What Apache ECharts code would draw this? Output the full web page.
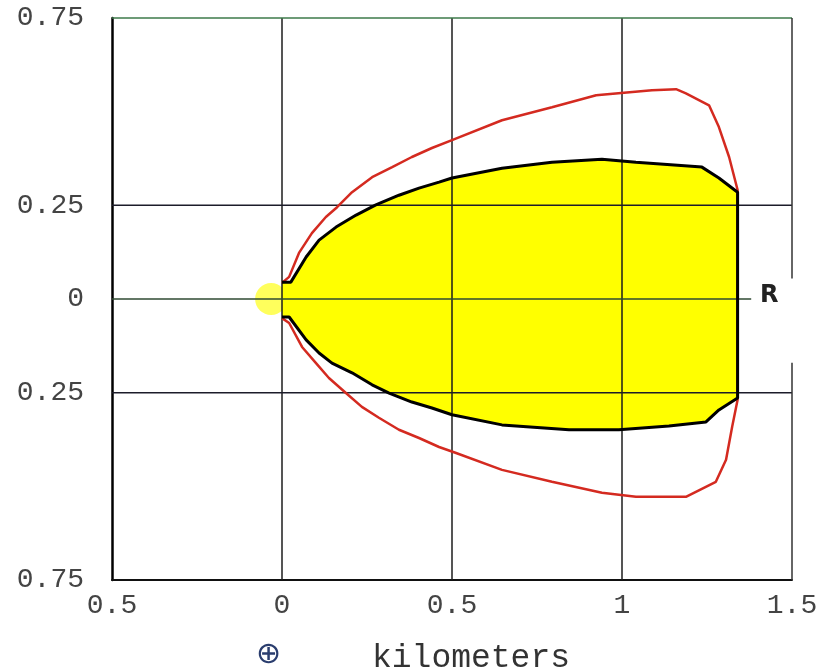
<!DOCTYPE html>
<html>
<head>
<meta charset="utf-8">
<script src="https://cdn.jsdelivr.net/npm/echarts@6/dist/echarts.min.js"></script>
<style>
  html, body { margin: 0; padding: 0; background: #fff; }
  #chart { width: 823px; height: 672px; }
</style>
</head>
<body>
<div id="chart"></div>
<script>
// axis ranges and tick labels
const xRange = [-0.5, 1.5]
const yRange = [-0.75, 0.75]
const xGridTicks = [0, 0.5, 1]
const yGridTicks = [0.25, -0.25]
const yLabelTicks = [0.75, 0.25, 0, -0.25, -0.75]
const zeroLineEnd = 1.38
const rightGap = [0.055, -0.17]

// black boundary, upper and lower half (x, y in km)
const blackUpper = [[0, 0.045], [0.026, 0.045], [0.071, 0.112], [0.109, 0.157], [0.159, 0.192],
  [0.218, 0.224], [0.276, 0.251], [0.344, 0.277], [0.403, 0.296], [0.462, 0.312], [0.5, 0.323],
  [0.647, 0.349], [0.794, 0.365], [0.941, 0.373], [1.041, 0.365],
  [1.235, 0.352], [1.285, 0.323], [1.34, 0.285]]
const blackLower = [[0, -0.048], [0.021, -0.048], [0.071, -0.109], [0.109, -0.144], [0.147, -0.171],
  [0.206, -0.197], [0.265, -0.229], [0.315, -0.251], [0.382, -0.275], [0.441, -0.291], [0.5, -0.309],
  [0.647, -0.336], [0.844, -0.349], [0.991, -0.349], [1.138, -0.339],
  [1.247, -0.328], [1.285, -0.296], [1.34, -0.264]]

// red outer contour
const redUpper = [[0, 0.043], [0.021, 0.059], [0.05, 0.123], [0.088, 0.176], [0.129, 0.219],
  [0.162, 0.245], [0.206, 0.285], [0.265, 0.325], [0.324, 0.352], [0.382, 0.379], [0.441, 0.403],
  [0.5, 0.424], [0.647, 0.477], [0.794, 0.512], [0.924, 0.544], [1.088, 0.557],
  [1.159, 0.56], [1.188, 0.549], [1.256, 0.517], [1.285, 0.459], [1.315, 0.379], [1.34, 0.291]]
const redLower = [[0, -0.051], [0.021, -0.064], [0.059, -0.128], [0.1, -0.171], [0.138, -0.211],
  [0.188, -0.251], [0.235, -0.288], [0.285, -0.317], [0.344, -0.349], [0.403, -0.371],
  [0.462, -0.395], [0.512, -0.411], [0.647, -0.456], [0.794, -0.488], [0.941, -0.517],
  [1.041, -0.528], [1.188, -0.528], [1.276, -0.488], [1.306, -0.429], [1.324, -0.341], [1.34, -0.269]]

// source point
const sourcePoint = [[-0.032, 0]]

const myChart = echarts.init(document.getElementById('chart'), null, { renderer: 'canvas' })

const lineSeries = (data, color, width) => ({
  type: 'line',
  data: data,
  symbol: 'none',
  silent: true,
  animation: false,
  clip: false,
  lineStyle: { color: color, width: width }
})

const gridSeries = []
xGridTicks.forEach(x => {
  gridSeries.push(lineSeries([[x, yRange[0]], [x, yRange[1]]], '#1c1c1c', 1.5))
})
yGridTicks.forEach(y => {
  gridSeries.push(lineSeries([[xRange[0], y], [xRange[1], y]], '#1c1c2a', 1.5))
})
gridSeries.push(lineSeries([[xRange[0], 0], [zeroLineEnd, 0]], '#2f4a32', 1.5))
// frame: top and right (right has a gap for the R marker)
gridSeries.push(lineSeries([[xRange[0], yRange[1]], [xRange[1], yRange[1]]], '#3d7a4a', 1.5))
gridSeries.push(lineSeries([[xRange[1], yRange[1]], [xRange[1], rightGap[0]]], '#333', 1.5))
gridSeries.push(lineSeries([[xRange[1], rightGap[1]], [xRange[1], yRange[0]]], '#333', 1.5))

const blackPath = blackUpper.concat(blackLower.slice().reverse())
const redPath = redUpper.concat(redLower.slice().reverse())

const option = {
  backgroundColor: '#fff',
  animation: false,
  grid: { left: 112, right: 31, top: 18, bottom: 92 },
  xAxis: {
    type: 'value',
    min: xRange[0],
    max: xRange[1],
    interval: 0.5,
    splitLine: { show: false },
    axisTick: { show: false },
    axisLine: { onZero: false, lineStyle: { color: '#111', width: 2 } },
    axisLabel: {
      margin: 12,
      fontFamily: 'Liberation Mono',
      fontSize: 28,
      color: '#444',
      formatter: v => String(Math.abs(v))
    }
  },
  yAxis: {
    type: 'value',
    min: yRange[0],
    max: yRange[1],
    interval: 0.25,
    splitLine: { show: false },
    axisTick: { show: false },
    axisLine: { onZero: false, lineStyle: { color: '#000', width: 2.5 } },
    axisLabel: {
      margin: 28,
      fontFamily: 'Liberation Mono',
      fontSize: 28,
      color: '#444',
      formatter: v => yLabelTicks.some(t => Math.abs(t - v) < 1e-9) ? String(Math.abs(v)) : ''
    }
  },
  graphic: [
    {
      type: 'text', left: 760, top: 284,
      style: { text: 'R', font: 'bold 24px "DejaVu Sans"', fill: '#222' }
    },
    {
      type: 'text', left: 256, top: 640,
      style: { text: '⊕', font: '30px "DejaVu Sans"', fill: '#2a3d6e' }
    },
    {
      type: 'text', left: 372, top: 642,
      style: { text: 'kilometers', font: '33px "Liberation Mono"', fill: '#333' }
    }
  ],
  series: [
    // yellow fill
    {
      type: 'line', data: blackUpper, symbol: 'none', silent: true,
      lineStyle: { width: 0 }, areaStyle: { color: '#ffff00', opacity: 1 }
    },
    {
      type: 'line', data: blackLower, symbol: 'none', silent: true,
      lineStyle: { width: 0 }, areaStyle: { color: '#ffff00', opacity: 1 }
    },
    {
      type: 'scatter', data: sourcePoint, symbol: 'circle', symbolSize: 32, silent: true,
      itemStyle: { color: '#ffff33' }
    },
    ...gridSeries,
    lineSeries(redPath, '#d42a20', 2.5),
    lineSeries(blackPath, '#000', 3)
  ]
}

myChart.setOption(option)
</script>
</body>
</html>
